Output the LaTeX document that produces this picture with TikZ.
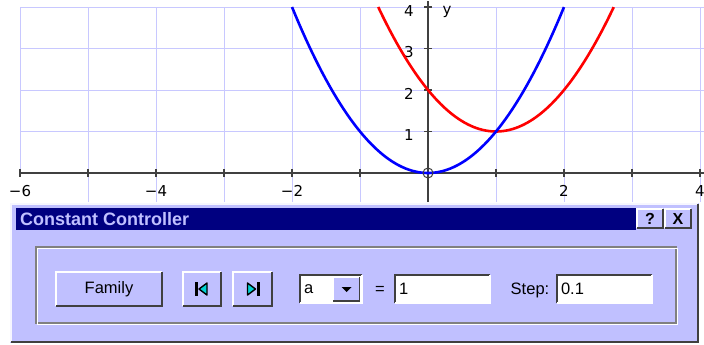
\documentclass[tikz,border=0pt]{standalone}
\usepackage{fontspec}
\setmainfont{Liberation Sans}
\newfontfamily\plotfont{DejaVu Sans}
\usepackage{tikz}
\usetikzlibrary{calc}
\definecolor{winlav}{RGB}{192,192,255}
\definecolor{gridlav}{RGB}{200,200,255}
\definecolor{titlenavy}{RGB}{0,0,128}
\definecolor{axisgray}{RGB}{64,64,64}
\definecolor{shadegray}{RGB}{128,128,128}
\definecolor{iconcyan}{RGB}{0,210,210}

\tikzset{
  winbtn/.style={fill=winlav, inner sep=0pt, minimum height=34pt, font=\fontsize{16.5}{18}\selectfont},
  editbox/.style={fill=white, inner sep=3pt, minimum height=28pt, anchor=center},
  uilabel/.style={inner sep=0pt, font=\fontsize{16.5}{18}\selectfont},
  ticklabel/.style={inner sep=0pt, font=\plotfont\fontsize{15}{17}\selectfont, text=black},
}
% 3d borders of windows controls
\newcommand{\raised}[1]{%
  \draw[white, line width=1.5pt] (#1.south west) |- (#1.north east);
  \draw[axisgray, line width=1.5pt] (#1.south west) -| (#1.north east);}
\newcommand{\sunken}[1]{%
  \draw[axisgray, line width=1.5pt] (#1.south west) |- (#1.north east);
  \draw[white, line width=1.5pt] (#1.south west) -| (#1.north east);}

\begin{document}
\begin{tikzpicture}[x=1pt, y=-1pt]
\useasboundingbox (0,0) rectangle (704,345);
\fill[white] (0,0) rectangle (704,345);

% the graph, in units of the plot
\begin{scope}[shift={(428,173)}, x=68pt, y=41.5pt]
\foreach \i in {-5,...,4}
  \draw[gridlav] (\i,-0.7) -- (\i,4);
\draw[gridlav] (-6,0) -- (-6,4);
\foreach \j in {1,...,4}
  \draw[gridlav] (-6,\j) -- (4.1,\j);
\draw[axisgray, line width=1.3pt] (-6,0) -- (4.1,0);
\draw[axisgray, line width=1.3pt] (0,-0.7) -- (0,4.15);
\foreach \i in {-6,...,4}
  \draw[axisgray, line width=1.3pt] (\i,0) +(0,4pt) -- +(0,-4pt);
\foreach \j in {1,...,4}
  \draw[axisgray, line width=1.3pt] (0,\j) +(-4pt,0) -- +(4pt,0);
\foreach \i/\t in {-6/−6,-4/−4,-2/−2,2/2,4/4}
  \node[ticklabel, anchor=north] (xl\i) at ([yshift=-12pt]\i,0) {\t};
\foreach \j in {1,...,4}
  \node[ticklabel] (yl\j) at ([xshift=-19pt,yshift=-4pt]0,\j) {\j};
\node[ticklabel] (ylab) at ([xshift=19pt,yshift=-5pt]0,4) {y};
\draw[red, line width=2.6pt, domain=-0.732:2.732, samples=80] plot (\x,{(\x-1)*(\x-1)+1});
\draw[blue, line width=2.6pt, domain=-2:2, samples=80] plot (\x,{\x*\x});
\draw[axisgray, line width=1pt] (0,0) circle (5pt);
\end{scope}

% the dialog window
\fill[winlav] (10,203) rectangle (699,343);
\draw[white!85!winlav, line width=1.5pt] (11,342) |- (698,204);
\draw[axisgray, line width=1.5pt] (11,342) -| (698,204);
\fill[titlenavy] (16,208) rectangle (636,230);
\node[anchor=west, inner sep=0pt, text=winlav, font=\bfseries\fontsize{18}{20}\selectfont] (title) at (20,219) {Constant Controller};
\node[winbtn, minimum width=26pt, minimum height=19pt, font=\bfseries\fontsize{16}{18}\selectfont] (help) at (650,218.5) {?};
\raised{help}
\node[winbtn, minimum width=26pt, minimum height=19pt, font=\bfseries\fontsize{16}{18}\selectfont] (close) at (678,218.5) {X};
\raised{close}

% group box
\draw[shadegray, line width=1.3pt] (36,247) rectangle (676,323);
\draw[white, line width=1.3pt] (37.5,248.5) rectangle (677.5,324.5);

\node[winbtn, minimum width=106pt] (family) at (109,289) {Family};
\raised{family}
\node[winbtn, minimum width=38pt] (first) at (202,289) {};
\raised{first}
\fill ([shift={(-7,-7)}]first.center) rectangle ([shift={(-4,7)}]first.center);
\filldraw[fill=iconcyan, draw=black, line width=1.4pt, line join=round]
  ([shift={(-3,0)}]first.center) -- ([shift={(5,-6)}]first.center) -- ([shift={(5,6)}]first.center) -- cycle;
\node[winbtn, minimum width=39pt] (last) at (252.5,289) {};
\raised{last}
\filldraw[fill=iconcyan, draw=black, line width=1.4pt, line join=round]
  ([shift={(-5,-6)}]last.center) -- ([shift={(3,0)}]last.center) -- ([shift={(-5,6)}]last.center) -- cycle;
\fill ([shift={(4,-7)}]last.center) rectangle ([shift={(7,7)}]last.center);

\node[editbox, minimum width=62pt] (const) at (331,289) {};
\sunken{const}
\node[uilabel, anchor=west] (constname) at ([xshift=4pt]const.west) {a};
\node[winbtn, minimum width=26pt, minimum height=24pt] (drop) at (346.5,289) {};
\raised{drop}
\fill ([shift={(-5,-2)}]drop.center) -- ([shift={(5,-2)}]drop.center) -- ([shift={(0,3)}]drop.center) -- cycle;

\node[uilabel] (eq) at (380,290) {=};
\node[editbox, minimum width=95pt] (value) at (442.5,289) {};
\sunken{value}
\node[uilabel, anchor=west] (valuetxt) at ([xshift=4pt]value.west) {1};

\node[uilabel] (steplab) at (530,290) {Step:};
\node[editbox, minimum width=95pt] (stepval) at (604.5,289) {};
\sunken{stepval}
\node[uilabel, anchor=west] (steptxt) at ([xshift=4pt]stepval.west) {0.1};
\end{tikzpicture}
\end{document}
